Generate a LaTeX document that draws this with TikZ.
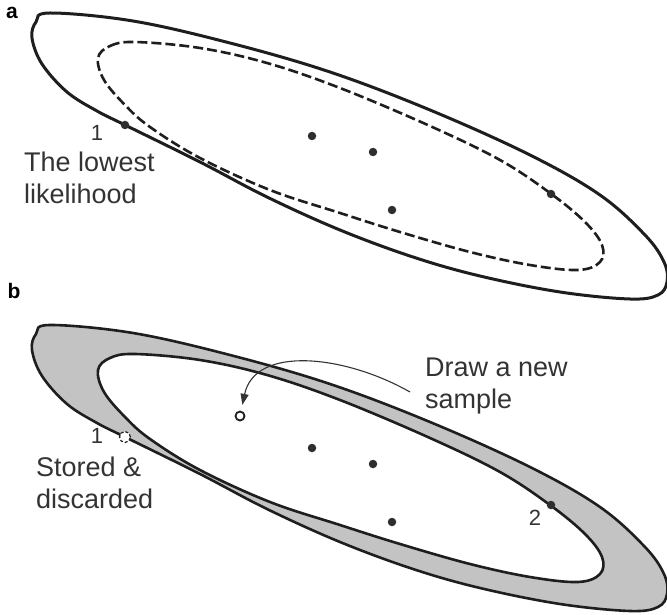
\documentclass[tikz,border=0pt]{standalone}
\usepackage{fontspec}
\setmainfont{Liberation Sans}
\usepackage{tikz}
\usetikzlibrary{arrows.meta}
\definecolor{nsInk}{HTML}{1E1E1E}
\definecolor{nsText}{HTML}{333333}
\definecolor{nsBand}{HTML}{C3C3C3}
\definecolor{nsDot}{HTML}{2E2E2E}

\tikzset{
  outerrim/.pic={
    \path[pic actions] plot[smooth cycle, tension=0.6] coordinates {
      (32,38) (36,22) (50,13) (133,21) (230,43) (330,72) (430,110)
      (530,155) (600,195) (645,235) (664,262) (667,282) (658,295)
      (630,299) (560,292) (480,276) (413,257) (340,230) (267,197)
      (200,162) (125,125) (97,111) (67,92) (42,64)};
  },
  innerrim/.pic={
    \path[pic actions] plot[smooth cycle, tension=0.6] coordinates {
      (98,58) (110,46) (135,42) (200,48) (267,63) (340,88) (430,126)
      (500,160) (550,193) (585,222) (602,245) (600,262) (578,270)
      (530,265) (470,252) (400,232) (340,213) (270,190) (200,158)
      (150,127) (125,105) (104,80)};
  }
}

\begin{document}
\begin{tikzpicture}[x=1pt,y=-1pt,
  rim/.style={draw=nsInk, line width=2.6pt},
  sampledot/.style={circle, fill=nsDot, inner sep=0pt, minimum size=8.5pt},
  label/.style={text=nsText, font=\fontsize{27}{32}\selectfont, align=left, inner sep=0pt},
  numlabel/.style={text=nsText, font=\fontsize{22}{24}\selectfont, inner sep=0pt},
  panel/.style={font=\fontsize{21}{24}\selectfont\bfseries, inner sep=0pt}]
  \useasboundingbox (0,0) rectangle (667,615);

  % panel a
  \node[panel] (tagA) at (12,13) {a};
  \pic[rim, line width=3pt] at (0,0) {outerrim};
  \pic[rim, dash pattern=on 10pt off 4pt] at (0,0) {innerrim};
  \node[sampledot] (a1) at (125,125) {};
  \foreach \n/\x/\y in {2/312/136,3/373/152,4/392/210,5/551/194}
    \node[sampledot] (a\n) at (\x,\y) {};
  \node[numlabel] (numA1) at (97,133) {1};
  \node[label, anchor=west] (lowest) at (24,178) {The lowest\\likelihood};

  % panel b
  \node[panel] (tagB) at (14,291) {b};
  \pic[rim, fill=nsBand] at (0,312) {outerrim};
  \pic[rim, fill=white] at (0,312) {innerrim};
  \foreach \n/\x/\y in {2/312/448,3/373/464,4/392/522,5/551/505}
    \node[sampledot] (b\n) at (\x,\y) {};
  \node[circle, draw=nsInk, fill=white, densely dashed, line width=1.2pt,
    inner sep=0pt, minimum size=11pt] (b1) at (125,437) {};
  \node[circle, draw=nsInk, fill=white, line width=1.8pt,
    inner sep=0pt, minimum size=9pt] (newpt) at (240,416) {};
  \node[numlabel] (numB1) at (97,436) {1};
  \node[numlabel] (numB2) at (535,518) {2};
  \node[label, anchor=west] (stored) at (36,483) {Stored \&\\discarded};
  \node[label, anchor=west] (drawnew) at (425,386) {Draw a new\\sample};

  \coordinate (arrowstart) at (410,392);
  \draw[nsText, line width=1.1pt, -{Triangle[length=11pt,width=8pt]},
    shorten >=6pt] (arrowstart) .. controls (345,355) and (255,345) .. (newpt);
\end{tikzpicture}
\end{document}
